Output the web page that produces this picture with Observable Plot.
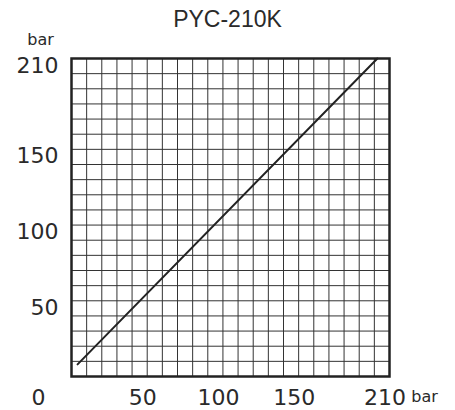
<!DOCTYPE html>
<html>
<head>
<meta charset="utf-8">
<script src="https://cdn.jsdelivr.net/npm/d3@7"></script>
<script src="https://cdn.jsdelivr.net/npm/@observablehq/plot@0.6"></script>
<style>
  html, body { margin: 0; padding: 0; background: #fff; }
  #title { box-sizing: border-box; height: 26px; padding-top: 8px; font-family: "Liberation Sans", Arial, sans-serif; font-size: 23px; line-height: 22px; font-weight: 400; text-align: center; color: #2a2a2a; width: 455px; overflow: visible; position: relative; z-index: 1; }
  #chart svg { display: block; background: transparent; }
</style>
</head>
<body>
<div id="title">PYC-210K</div>
<div id="chart"></div>
<script>
// Data
const lineX = [4, 202];          // inlet pressure, bar
const lineY = [8, 210];          // outlet pressure, bar
const xTicks = [50, 100, 150, 210];
const yTicks = [50, 100, 150, 210];
const gridTicks = d3.range(10, 210, 10);
const unit = "bar";

const points = lineX.map((x, i) => ({x, y: lineY[i]}));
const numFont = "'DejaVu Sans', sans-serif";
const txt = {fontFamily: numFont, fontWeight: 400, fill: "#2a2a2a", lineAnchor: "middle", textAnchor: "middle"};

const chart = Plot.plot({
  width: 455,
  height: 384,
  marginTop: 32,
  marginBottom: 34,
  marginLeft: 71,
  marginRight: 66,
  x: {domain: [0, 210], axis: null},
  y: {domain: [0, 210], axis: null},
  style: {background: "transparent", color: "#222", overflow: "visible"},
  marks: [
    Plot.ruleX(gridTicks, {stroke: "#333", strokeWidth: 1}),
    Plot.ruleY(gridTicks, {stroke: "#333", strokeWidth: 1}),
    Plot.frame({stroke: "#222", strokeWidth: 2.5}),
    Plot.line(points, {x: "x", y: "y", stroke: "#222", strokeWidth: 2}),
    Plot.text(xTicks, {x: d => d, frameAnchor: "bottom", dy: 21, dx: -4.5, fontSize: 22, ...txt}),
    Plot.text(yTicks, {y: d => d, frameAnchor: "left", dx: -13, dy: 7, fontSize: 22, ...txt, textAnchor: "end"}),
    Plot.text([0], {x: 0, y: 0, text: d => d, dx: -33, dy: 21, fontSize: 22, ...txt}),
    Plot.text([unit], {frameAnchor: "top-left", text: d => d, dx: -31, dy: -19, fontSize: 16, ...txt}),
    Plot.text([unit], {frameAnchor: "bottom-right", text: d => d, dx: 35, dy: 20, fontSize: 16, ...txt})
  ]
});
document.getElementById("chart").appendChild(chart);
</script>
</body>
</html>
